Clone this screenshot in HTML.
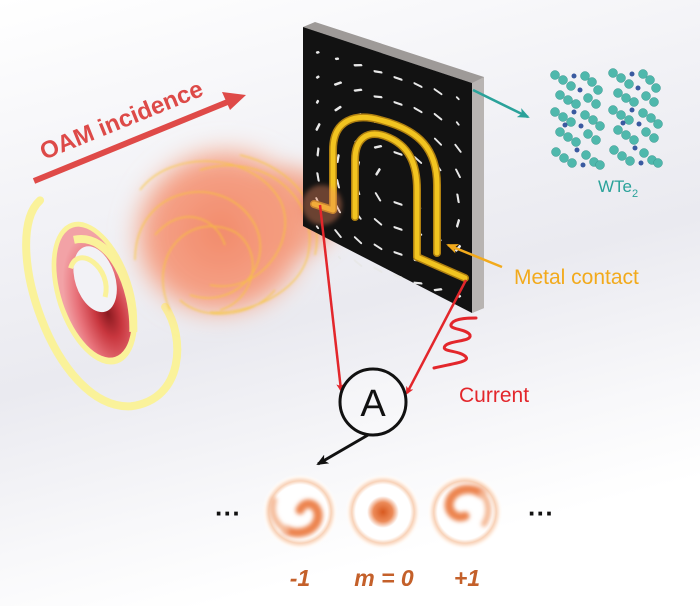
<!DOCTYPE html>
<html><head><meta charset="utf-8"><style>
html,body{margin:0;padding:0;background:#fff;}
svg{display:block;}
</style></head><body>
<svg width="700" height="606" viewBox="0 0 700 606" xmlns="http://www.w3.org/2000/svg">
<defs>
<linearGradient id="bg" x1="0" y1="0" x2="0.3" y2="1">
<stop offset="0" stop-color="#ffffff"/><stop offset="0.35" stop-color="#f2f2f6"/><stop offset="0.6" stop-color="#eaeaf0"/><stop offset="0.85" stop-color="#f8f8fa"/><stop offset="1" stop-color="#ffffff"/>
</linearGradient>
<filter id="blur8" x="-40%" y="-40%" width="180%" height="180%"><feGaussianBlur stdDeviation="10"/></filter>
<filter id="blur3" x="-30%" y="-30%" width="160%" height="160%"><feGaussianBlur stdDeviation="2.5"/></filter>
<filter id="blur2" x="-30%" y="-30%" width="160%" height="160%"><feGaussianBlur stdDeviation="2"/></filter>
<filter id="blur1"><feGaussianBlur stdDeviation="1"/></filter>
<radialGradient id="redg" cx="0.6" cy="0.68" r="0.6">
<stop offset="0" stop-color="#8a1a20"/><stop offset="0.3" stop-color="#c8363e"/><stop offset="0.7" stop-color="#e8727a"/><stop offset="1" stop-color="#f2a2a6"/>
</radialGradient>
<radialGradient id="beam" cx="0.5" cy="0.5" r="0.5">
<stop offset="0" stop-color="#f28a6a"/><stop offset="0.75" stop-color="#f5a288"/><stop offset="1" stop-color="#f8c8b0" stop-opacity="0"/>
</radialGradient>
<radialGradient id="m0" cx="0.5" cy="0.5" r="0.5">
<stop offset="0" stop-color="#d85a20"/><stop offset="0.25" stop-color="#ec8a58"/><stop offset="0.42" stop-color="#fff"/><stop offset="0.72" stop-color="#fff"/><stop offset="0.82" stop-color="#f8d2b8"/><stop offset="0.92" stop-color="#fff6ef"/><stop offset="1" stop-color="#fff" stop-opacity="0"/>
</radialGradient>
<radialGradient id="ring" cx="0.5" cy="0.5" r="0.5">
<stop offset="0" stop-color="#fff"/><stop offset="0.72" stop-color="#fff"/><stop offset="0.82" stop-color="#f8d2b8"/><stop offset="0.92" stop-color="#fff6ef"/><stop offset="1" stop-color="#fff" stop-opacity="0"/>
</radialGradient>
<marker id="ar" markerWidth="8" markerHeight="8" refX="6" refY="4" orient="auto" markerUnits="userSpaceOnUse"><path d="M0,0 L8,4 L0,8 L2,4z" fill="#e3262b"/></marker>
<marker id="ak" markerWidth="12" markerHeight="10" refX="10" refY="5" orient="auto" markerUnits="userSpaceOnUse"><path d="M0,0 L12,5 L0,10 L3,5z" fill="#111"/></marker>
<marker id="at" markerWidth="12" markerHeight="10" refX="10" refY="5" orient="auto" markerUnits="userSpaceOnUse"><path d="M0,0 L12,5 L0,10 L3,5z" fill="#2aa29a"/></marker>
<marker id="ao" markerWidth="12" markerHeight="10" refX="10" refY="5" orient="auto" markerUnits="userSpaceOnUse"><path d="M0,0 L12,5 L0,10 L3,5z" fill="#f2aa1c"/></marker>
</defs>
<rect width="700" height="606" fill="url(#bg)"/>

<!-- OAM arrow -->
<line x1="34" y1="181" x2="230" y2="101" stroke="#df4a48" stroke-width="6"/>
<path d="M246,95 L222,92 L230,110 z" fill="#df4a48"/>
<text x="0" y="0" transform="translate(44,160) rotate(-22)" font-family="Liberation Sans, sans-serif" font-weight="bold" font-size="24" fill="#dd4a48">OAM incidence</text>

<!-- left spiral -->
<g transform="rotate(-18 95 295)">
<path d="M72,188 C22,210 20,392 95,412 C148,422 168,362 158,328" fill="none" stroke="#faf29a" stroke-width="8" stroke-linecap="round"/>
<ellipse cx="95" cy="293" rx="38" ry="74" fill="#faf29a"/>
<ellipse cx="95" cy="292" rx="33" ry="68" fill="url(#redg)"/>
<path d="M92,236 C130,240 135,300 120,342" fill="none" stroke="#faf29a" stroke-width="8"/>
<ellipse cx="100" cy="280" rx="20" ry="34" fill="#f2f2f6"/>
<path d="M80,262 C95,240 120,275 104,300" fill="none" stroke="#faf29a" stroke-width="5"/>
</g>

<!-- beam cloud -->
<g filter="url(#blur8)">
<ellipse cx="222" cy="232" rx="98" ry="92" fill="url(#beam)" transform="rotate(-20 222 232)"/>
<ellipse cx="290" cy="212" rx="50" ry="45" fill="#f39a7c" opacity="0.7"/>
<ellipse cx="322" cy="205" rx="22" ry="22" fill="#f08060" opacity="0.6"/>
</g>
<g fill="none" stroke="#f8c838" stroke-width="1.3" opacity="0.8" filter="url(#blur1)">
<path d="M140,190 C170,150 250,150 280,200 C300,240 260,295 210,285"/>
<path d="M135,260 C135,185 225,170 255,225 C275,265 235,310 190,295"/>
<path d="M170,310 C145,255 190,210 235,232 C265,252 255,300 220,310"/>
<path d="M200,170 C265,150 320,200 308,255 C298,295 245,315 210,312"/>
<path d="M240,155 C295,168 325,210 315,255"/>
<path d="M155,235 C180,205 215,215 225,245"/>
<path d="M180,300 C200,320 250,320 275,290"/>
</g>

<!-- panel -->
<polygon points="303,27 315,22 484,77 484,308 472,313 472,83" fill="#9e9a98"/>
<polygon points="472,83 484,77 484,308 472,313" fill="#b8b4b2"/>
<polygon points="303,27 472,83 472,313 303,226" fill="#121212"/>
<g transform="matrix(1,0.331,0,1,303,27)" stroke="#e8e8e8" stroke-width="2.2" stroke-linecap="round" fill="none">
<path d="M14 21l1.5-1M33 21l2-1M51.7 21.2l6.6-2.4M71.6 20.6l6.8-1.2M91.5 20l7 0M111.6 19.4l6.8 1.2M131.7 18.8l6.6 2.4M154 19.5l1.5 1"/>
<path d="M14 46l1.5-1.5M32.1 47l5.8-4M51.8 46.5l6.4-3M71.6 45.8l6.8-1.6M91.5 45l7 0M111.6 44.2l6.8 1.6M131.8 43.5l6.4 3M154 44.5l1.5 1.5"/>
<path d="M14 71l1-2M32.5 72.5l5-5M52.1 71.9l5.8-3.8M71.7 71.1l6.6-2.2M91.5 70l7 0M111.7 68.9l6.6 2.2M132.1 68.1l5.8 3.8M152.5 67.5l5 5"/>
<path d="M13.6 98.2l2.8-6.4M33.2 98l3.6-6M52.7 97.6l4.6-5.2M72 96.7l6-3.4M91.5 95l7 0M112 93.3l6 3.4M132.7 92.4l4.6 5.2M153.2 92l3.6 6"/>
<path d="M14.6 123.5l0.8-7M34.4 123.5l1.2-7M54.1 123.4l1.8-6.8M73.4 123.1l3.2-6.2M113.4 116.9l3.2 6.2M134.1 116.6l1.8 6.8M154.4 116.5l1.2 7"/>
<path d="M15.6 148.4l-1.2-6.8M35.9 148.4l-1.8-6.8M56.2 148.3l-2.4-6.6M77.1 147.8l-4.2-5.6M98.5 145l-7 0M117.1 142.2l-4.2 5.6M136.2 141.7l-2.4 6.6M155.9 141.6l-1.8 6.8"/>
<path d="M16.6 173.1l-3.2-6.2M36.9 172.9l-3.8-5.8M57.5 172.5l-5-5M78.1 171.6l-6.2-3.2M98.5 170l-7 0M118.1 168.4l-6.2 3.2M137.5 167.5l-5 5M156.9 167.1l-3.8 5.8"/>
<path d="M15 196l-1-1M37.6 197.4l-5.2-4.8M58 196.8l-6-3.6M78.3 196l-6.6-2M98.5 195l-7 0M118.3 194l-6.6 2M138 193.2l-6 3.6M156 195l-1-1"/>
<path d="M37 219l-1-1M58.2 219.5l-6.4-3M78.4 218.8l-6.8-1.6M98.5 218l-7 0M118.4 217.2l-6.8 1.6M138.2 216.5l-6.4 3M157 217l-1 1"/>
</g>

<!-- gold contacts -->
<g fill="none" stroke-linecap="round" stroke-linejoin="round">
<path d="M314,204 L333,210 L333,150 C333,120 355,113 380,120 C420,130 437,150 437,185 L437,253" stroke="#b08010" stroke-width="8"/>
<path d="M314,204 L333,210 L333,150 C333,120 355,113 380,120 C420,130 437,150 437,185 L437,253" stroke="#f2c420" stroke-width="5"/>
<path d="M355,217 L355,160 C355,138 368,130 385,136 C410,145 417,165 417,190 L417,257 L465,278" stroke="#b08010" stroke-width="8"/>
<path d="M355,217 L355,160 C355,138 368,130 385,136 C410,145 417,165 417,190 L417,257 L465,278" stroke="#f2c420" stroke-width="5"/>
</g>
<ellipse cx="322" cy="205" rx="20" ry="20" fill="#f08a60" opacity="0.4" filter="url(#blur3)"/>

<!-- WTe2 -->
<line x1="473" y1="90" x2="528" y2="117" stroke="#2aa29a" stroke-width="2.5" marker-end="url(#at)"/>
<g fill="#4fb8ac" stroke="#3a9890" stroke-width="0.5">
<g id="col">
<circle cx="555" cy="75" r="4.5"/><circle cx="563" cy="80" r="4.5"/><circle cx="571" cy="86" r="4.5"/><circle cx="585" cy="76" r="4.5"/><circle cx="592" cy="82" r="4.5"/><circle cx="598" cy="90" r="4.5"/>
<circle cx="560" cy="95" r="4.5"/><circle cx="568" cy="100" r="4.5"/><circle cx="576" cy="104" r="4.5"/><circle cx="588" cy="98" r="4.5"/><circle cx="596" cy="104" r="4.5"/>
<circle cx="555" cy="112" r="4.5"/><circle cx="563" cy="117" r="4.5"/><circle cx="571" cy="122" r="4.5"/><circle cx="585" cy="115" r="4.5"/><circle cx="593" cy="120" r="4.5"/><circle cx="600" cy="126" r="4.5"/>
<circle cx="560" cy="132" r="4.5"/><circle cx="568" cy="137" r="4.5"/><circle cx="576" cy="142" r="4.5"/><circle cx="588" cy="134" r="4.5"/><circle cx="596" cy="140" r="4.5"/>
<circle cx="556" cy="152" r="4.5"/><circle cx="564" cy="158" r="4.5"/><circle cx="572" cy="163" r="4.5"/><circle cx="586" cy="155" r="4.5"/><circle cx="594" cy="162" r="4.5"/><circle cx="600" cy="165" r="4.5"/>
<g fill="#3a5aa0" stroke="none"><circle cx="574" cy="76" r="2.5"/><circle cx="580" cy="90" r="2.5"/><circle cx="574" cy="112" r="2.5"/><circle cx="581" cy="126" r="2.5"/><circle cx="577" cy="150" r="2.5"/><circle cx="583" cy="165" r="2.5"/><circle cx="565" cy="125" r="2.5"/></g>
</g>
<use href="#col" transform="translate(58,-2)"/>
</g>
<text x="598" y="192" font-family="Liberation Sans, sans-serif" font-size="17" fill="#2aa29a">WTe<tspan font-size="11" dy="5">2</tspan></text>

<!-- metal contact -->
<line x1="502" y1="267" x2="448" y2="245" stroke="#f2aa1c" stroke-width="2.5" marker-end="url(#ao)"/>
<text x="514" y="284" font-family="Liberation Sans, sans-serif" font-size="21" fill="#f2aa1c">Metal contact</text>

<!-- red wires -->
<line x1="320" y1="205" x2="341" y2="390" stroke="#e3262b" stroke-width="2.5" marker-end="url(#ar)"/>
<line x1="466" y1="280" x2="407" y2="393" stroke="#e3262b" stroke-width="2.5" marker-end="url(#ar)"/>
<path d="M434,368 C450,364 470,362 466,357 C460,350 440,352 445,346 C450,340 472,342 470,335 C466,328 446,330 452,323 C456,318 470,318 476,318" fill="none" stroke="#e3262b" stroke-width="3" stroke-linecap="round"/>
<text x="459" y="402" font-family="Liberation Sans, sans-serif" font-size="21" fill="#e3262b">Current</text>

<!-- ammeter -->
<circle cx="373" cy="402" r="33" fill="#fff" fill-opacity="0.3" stroke="#111" stroke-width="3"/>
<text x="373" y="416" text-anchor="middle" font-family="Liberation Sans, sans-serif" font-size="38" fill="#111">A</text>
<line x1="368" y1="435" x2="318" y2="464" stroke="#111" stroke-width="3" marker-end="url(#ak)"/>

<!-- mode patterns -->
<circle cx="300" cy="512" r="38" fill="url(#ring)"/>
<circle cx="383" cy="512" r="38" fill="url(#m0)"/>
<circle cx="465" cy="512" r="38" fill="url(#ring)"/>
<g fill="none" stroke-linecap="round" filter="url(#blur2)">
<path d="M300,510 C306,498 320,505 318,518 C315,532 298,536 286,530" stroke="#ec8450" stroke-width="9"/>
<path d="M286,530 C276,524 270,514 274,500" stroke="#f4b894" stroke-width="6"/>
<path d="M465,516 C455,520 446,510 450,500 C455,488 472,486 482,494" stroke="#ec8450" stroke-width="9"/>
<path d="M482,494 C490,502 490,515 484,524" stroke="#f4b894" stroke-width="6"/>
</g>
<g font-family="Liberation Sans, sans-serif" font-size="26" font-weight="bold" fill="#111">
<text x="215" y="522">···</text><text x="528" y="522">···</text>
</g>
<g font-family="Liberation Sans, sans-serif" font-size="23" font-weight="bold" font-style="italic" fill="#c4602a" text-anchor="middle">
<text x="300" y="586">-1</text>
<text x="384" y="586">m = 0</text>
<text x="467" y="586">+1</text>
</g>
</svg>
</body></html>
